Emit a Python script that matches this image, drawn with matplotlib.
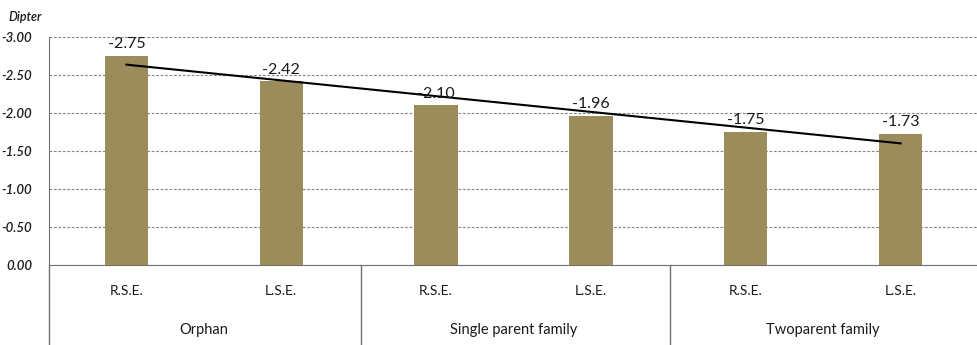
import matplotlib
matplotlib.use("Agg")
import matplotlib.pyplot as plt
import numpy as np

groups = ["Orphan", "Single parent family", "Twoparent family"]
subcats = ["R.S.E.", "L.S.E.", "R.S.E.", "L.S.E.", "R.S.E.", "L.S.E."]
values = [-2.75, -2.42, -2.10, -1.96, -1.75, -1.73]
yticks = [0.0, -0.5, -1.0, -1.5, -2.0, -2.5, -3.0]

plt.rcParams['font.family'] = ['Lato', 'DejaVu Sans']

W, H = 978, 345
fig = plt.figure(figsize=(W/100, H/100), dpi=100)
left, right, top, bottom = 49, 978, 37, 265
ax = fig.add_axes([left/W, 1-bottom/H, (right-left)/W, (bottom-top)/H])

x = np.arange(len(values))
ax.bar(x, values, width=0.28, color="#9C8C5B", zorder=3)
ax.set_xlim(-0.5, len(values)-0.5)
ax.set_ylim(0, -3.0)

# trend line
coef = np.polyfit(x, values, 1)
ax.plot([x[0], x[-1]], np.polyval(coef, [x[0], x[-1]]), color="black", lw=1.5, zorder=4)

for xi, v in zip(x, values):
    ax.text(xi, v - 0.06, f"{v:.2f}", ha="center", va="bottom", fontsize=11.5,
            color="#1a1a1a", zorder=5)

ax.set_yticks(yticks)
ax.set_yticklabels([f"{t:.2f}" for t in yticks], fontstyle="italic", fontsize=9.5,
                   fontweight="semibold", color="#1a1a1a")
ax.yaxis.grid(True, linestyle=(0, (2.5, 1.5)), color="#888888", lw=0.8, zorder=0)
ax.tick_params(axis="y", length=0, pad=12)
ax.tick_params(axis="x", length=0)
ax.set_xticks([])
for s in ["top", "right"]:
    ax.spines[s].set_visible(False)
ax.spines["left"].set_color("#707070")
ax.spines["bottom"].set_color("#707070")

# category labels below
for xi, lab in zip(x, subcats):
    ax.annotate(lab, xy=(xi, 0), xycoords="data", xytext=(0, -19), textcoords="offset points",
                ha="center", va="center", fontsize=10, color="#1a1a1a", annotation_clip=False)
for gi, g in enumerate(groups):
    ax.annotate(g, xy=(2*gi+0.5, 0), xycoords="data", xytext=(0, -47), textcoords="offset points",
                ha="center", va="center", fontsize=10.5, color="#1a1a1a", annotation_clip=False)

# separators
from matplotlib.lines import Line2D
for xpix in [49, 361, 670]:
    fig.add_artist(Line2D([xpix/W, xpix/W], [0, 1-bottom/H], color="#707070", lw=1))

fig.text(8/W, 1-17/H, "Dipter", fontstyle="italic", fontweight="semibold", fontsize=9,
         va="center", ha="left", color="#1a1a1a")

fig.savefig("out.png", dpi=100)
